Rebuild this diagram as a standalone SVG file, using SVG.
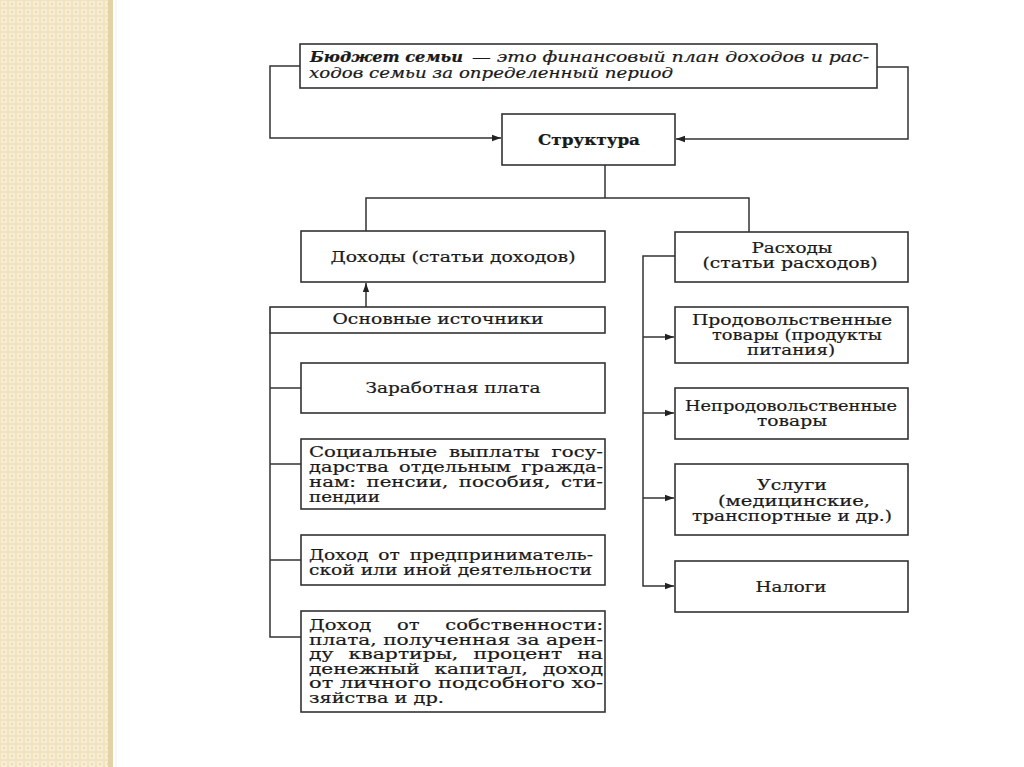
<svg xmlns="http://www.w3.org/2000/svg" width="1024" height="767" viewBox="0 0 1024 767">
<defs>
<pattern id="dots" x="0" y="0" width="8" height="8" patternUnits="userSpaceOnUse">
<rect width="8" height="8" fill="#f1e3bf"/>
<rect x="1" y="1" width="6" height="6" fill="#f7edd2"/>
<rect x="3" y="3" width="2" height="2" fill="#ecdcb3"/>
</pattern>
<marker id="arr" viewBox="0 0 10 10" refX="10" refY="5" markerWidth="9" markerHeight="9" markerUnits="userSpaceOnUse" orient="auto">
<path d="M0,1.5 L10,5 L0,8.5 z" fill="#222"/>
</marker>
<style>
.box{fill:#fff;stroke:#333;stroke-width:1.6}
.ln{fill:none;stroke:#333;stroke-width:1.5}
text{font-family:"DejaVu Serif","Liberation Serif",serif;font-size:14px;fill:#1a1a1a;stroke:#1a1a1a;stroke-width:0.2}
.c{text-anchor:middle}
.b{font-weight:bold}
.i{font-style:italic}
</style>
</defs>
<rect width="1024" height="767" fill="#fff"/>
<rect x="0" y="0" width="109" height="767" fill="url(#dots)"/>
<rect x="108" y="0" width="5" height="767" fill="#e2d2a6"/>
<line x1="116" y1="0" x2="116" y2="767" stroke="#eeeeee" stroke-width="1"/>

<g id="connectors">
<polyline class="ln" points="300,66 270,66 270,138 501,138" marker-end="url(#arr)"/>
<polyline class="ln" points="877,67 908,67 908,139 676,139" marker-end="url(#arr)"/>
<polyline class="ln" points="605,165 605,198"/>
<polyline class="ln" points="366,231 366,198 749,198 749,232"/>
<line class="ln" x1="366" y1="307" x2="366" y2="283" marker-end="url(#arr)"/>
<polyline class="ln" points="270,333 270,637 301,637"/>
<line class="ln" x1="270" y1="388" x2="301" y2="388"/>
<line class="ln" x1="270" y1="464" x2="301" y2="464"/>
<line class="ln" x1="270" y1="560" x2="301" y2="560"/>
<polyline class="ln" points="675,256 643,256 643,586 674,586" marker-end="url(#arr)"/>
<line class="ln" x1="643" y1="337" x2="674" y2="337" marker-end="url(#arr)"/>
<line class="ln" x1="643" y1="413" x2="674" y2="413" marker-end="url(#arr)"/>
<line class="ln" x1="643" y1="498" x2="674" y2="498" marker-end="url(#arr)"/>
</g>

<g id="definition">
<rect class="box" x="300" y="44" width="577" height="44"/>
<text x="310" y="62" class="i b" textLength="153" lengthAdjust="spacingAndGlyphs">Бюджет семьи</text>
<text x="472" y="62" class="i" textLength="397" lengthAdjust="spacingAndGlyphs">— это финансовый план доходов и рас-</text>
<text x="309" y="78" class="i" textLength="364" lengthAdjust="spacingAndGlyphs">ходов семьи за определенный период</text>
</g>

<g id="structure">
<rect class="box" x="502" y="114" width="173" height="51"/>
<text x="589" y="145" class="c b" textLength="102" lengthAdjust="spacingAndGlyphs">Структура</text>
</g>

<g id="income">
<rect class="box" x="301" y="231" width="304" height="51"/>
<text x="453" y="262" class="c" textLength="245" lengthAdjust="spacingAndGlyphs">Доходы (статьи доходов)</text>
</g>

<g id="sources">
<rect class="box" x="270" y="307" width="335" height="26"/>
<text x="438" y="324" class="c" textLength="211" lengthAdjust="spacingAndGlyphs">Основные источники</text>
</g>

<g id="salary">
<rect class="box" x="301" y="363" width="304" height="50"/>
<text x="453" y="393" class="c" textLength="175" lengthAdjust="spacingAndGlyphs">Заработная плата</text>
</g>

<g id="social">
<rect class="box" x="301" y="439" width="304" height="70"/>
<text x="309" y="457" textLength="294" lengthAdjust="spacingAndGlyphs">Социальные <tspan dx="4">выплаты</tspan> <tspan dx="4">госу-</tspan></text>
<text x="309" y="472" textLength="294" lengthAdjust="spacingAndGlyphs">дарства <tspan dx="3">отдельным</tspan> <tspan dx="3">гражда-</tspan></text>
<text x="309" y="487" textLength="294" lengthAdjust="spacingAndGlyphs">нам: <tspan dx="3">пенсии,</tspan> <tspan dx="3">пособия,</tspan> <tspan dx="3">сти-</tspan></text>
<text x="309" y="502" textLength="71" lengthAdjust="spacingAndGlyphs">пендии</text>
</g>

<g id="business">
<rect class="box" x="301" y="535" width="304" height="50"/>
<text x="309" y="560" textLength="284" lengthAdjust="spacingAndGlyphs">Доход <tspan dx="3">от</tspan> <tspan dx="3">предприниматель-</tspan></text>
<text x="309" y="575" textLength="283" lengthAdjust="spacingAndGlyphs">ской или иной деятельности</text>
</g>

<g id="property">
<rect class="box" x="301" y="611" width="304" height="101"/>
<text x="309" y="630" textLength="294" lengthAdjust="spacingAndGlyphs">Доход <tspan dx="14">от</tspan> <tspan dx="14">собственности:</tspan></text>
<text x="309" y="645" textLength="294" lengthAdjust="spacingAndGlyphs">плата, полученная за арен-</text>
<text x="309" y="659" textLength="294" lengthAdjust="spacingAndGlyphs">ду <tspan dx="6">квартиры,</tspan> <tspan dx="6">процент</tspan> <tspan dx="6">на</tspan></text>
<text x="309" y="674" textLength="294" lengthAdjust="spacingAndGlyphs">денежный <tspan dx="6">капитал,</tspan> <tspan dx="6">доход</tspan></text>
<text x="309" y="688" textLength="294" lengthAdjust="spacingAndGlyphs">от личного подсобного хо-</text>
<text x="309" y="703" textLength="135" lengthAdjust="spacingAndGlyphs">зяйства и др.</text>
</g>

<g id="expenses">
<rect class="box" x="675" y="232" width="233" height="50"/>
<text x="792" y="253" class="c" textLength="81" lengthAdjust="spacingAndGlyphs">Расходы</text>
<text x="790" y="268" class="c" textLength="175" lengthAdjust="spacingAndGlyphs">(статьи расходов)</text>
</g>

<g id="food">
<rect class="box" x="675" y="307" width="233" height="56"/>
<text x="792" y="325" class="c" textLength="200" lengthAdjust="spacingAndGlyphs">Продовольственные</text>
<text x="797" y="340" class="c" textLength="170" lengthAdjust="spacingAndGlyphs">товары (продукты</text>
<text x="791" y="355" class="c" textLength="88" lengthAdjust="spacingAndGlyphs">питания)</text>
</g>

<g id="nonfood">
<rect class="box" x="675" y="388" width="233" height="51"/>
<text x="791" y="411" class="c" textLength="212" lengthAdjust="spacingAndGlyphs">Непродовольственные</text>
<text x="792" y="426" class="c" textLength="70" lengthAdjust="spacingAndGlyphs">товары</text>
</g>

<g id="services">
<rect class="box" x="675" y="464" width="233" height="71"/>
<text x="792" y="490" class="c" textLength="70" lengthAdjust="spacingAndGlyphs">Услуги</text>
<text x="794" y="506" class="c" textLength="152" lengthAdjust="spacingAndGlyphs">(медицинские,</text>
<text x="792" y="521" class="c" textLength="200" lengthAdjust="spacingAndGlyphs">транспортные и др.)</text>
</g>

<g id="taxes">
<rect class="box" x="675" y="561" width="233" height="51"/>
<text x="791" y="592" class="c" textLength="71" lengthAdjust="spacingAndGlyphs">Налоги</text>
</g>
</svg>
